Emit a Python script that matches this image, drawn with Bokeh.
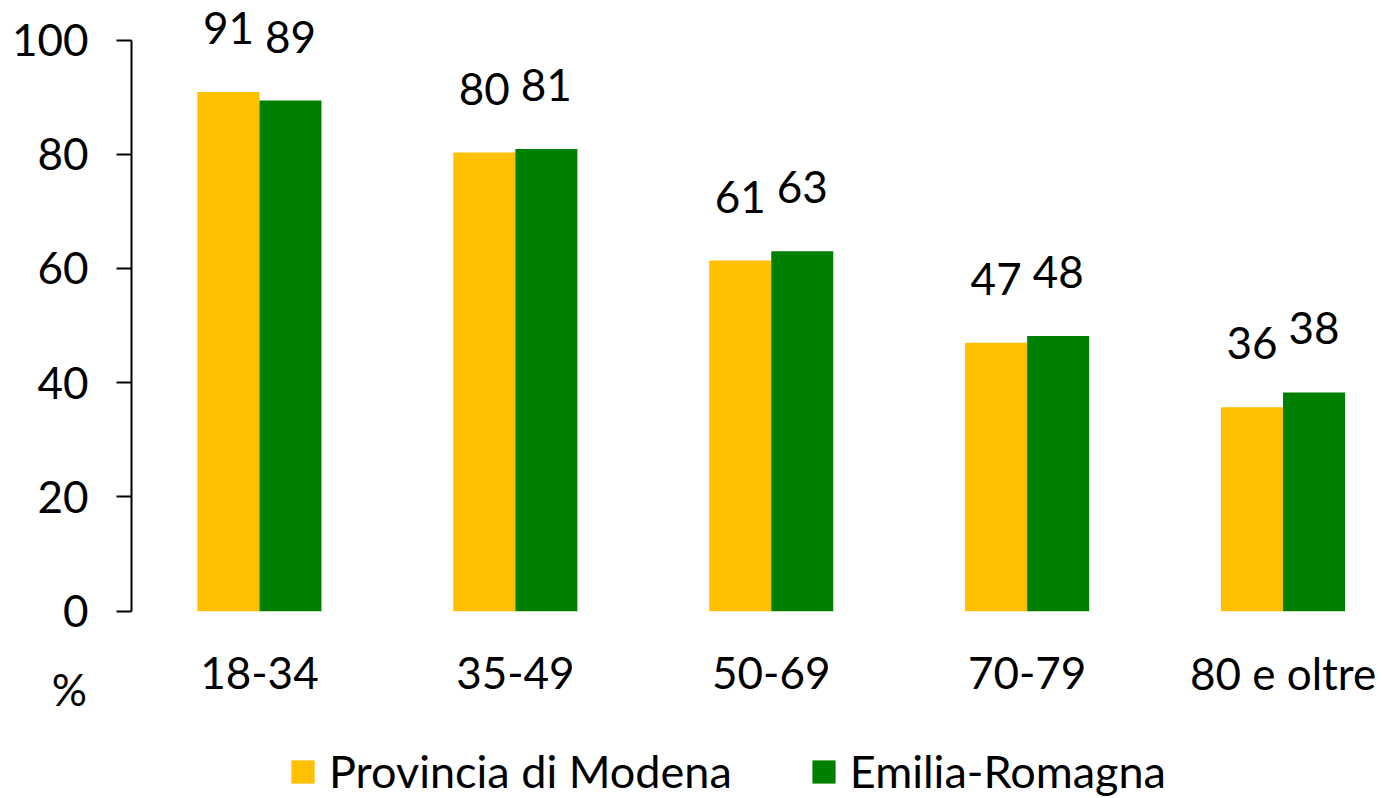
from bokeh.plotting import figure
from bokeh.models import Range1d, FixedTicker, Legend, LegendItem, ColumnDataSource
from bokeh.core.properties import value
from bokeh.embed import file_html
from bokeh.resources import INLINE

categories = ["18-34", "35-49", "50-69", "70-79", "80 e oltre"]
modena = [90.9, 80.3, 61.4, 47.0, 35.7]
emilia = [89.4, 80.9, 63.0, 48.2, 38.3]
series_names = ["Provincia di Modena", "Emilia-Romagna"]
y_ticks = [0, 20, 40, 60, 80, 100]
unit_label = "%"

FONT = "Lato"
FS = "44px"
LFS = "45px"
YELLOW = "#FFC000"
GREEN = "#008000"
BW = 0.2424
LABEL_OFF = 11.2
CAT_Y = -10.9
X0 = -0.5          # category-axis start (where the value axis sits)
PX = 255.9         # pixels per category

xs = list(range(len(categories)))

p = figure(width=1384, height=798,
           x_range=Range1d(X0 - 131 / PX, X0 + 1253 / PX), y_range=Range1d(-32.79, 106.92),
           output_backend="svg", toolbar_location=None,
           min_border_left=0, min_border_right=0, min_border_top=0, min_border_bottom=0)
p.outline_line_color = None
p.xgrid.grid_line_color = None
p.ygrid.grid_line_color = None
p.background_fill_color = "white"
p.border_fill_color = "white"
p.xaxis.visible = False

src_m = ColumnDataSource(dict(x=[x - BW / 2 for x in xs], top=modena,
                              ly=[v + LABEL_OFF for v in modena],
                              lt=[f"{v:.0f}" for v in modena]))
src_e = ColumnDataSource(dict(x=[x + BW / 2 for x in xs], top=emilia,
                              ly=[v + LABEL_OFF for v in emilia],
                              lt=[f"{v:.0f}" for v in emilia]))
src_c = ColumnDataSource(dict(x=xs, y=[CAT_Y] * len(xs), t=categories))

r_m = p.vbar(x="x", top="top", bottom=0, width=BW, source=src_m,
             fill_color=YELLOW, line_color=None)
r_e = p.vbar(x="x", top="top", bottom=0, width=BW, source=src_e,
             fill_color=GREEN, line_color=None)

for src in (src_m, src_e):
    p.text(x="x", y="ly", text="lt", source=src, text_align="center",
           text_baseline="middle", text_font=value(FONT), text_font_size=FS,
           text_color="black")

# category labels (x axis has no line or ticks)
p.text(x="x", y="y", text="t", source=src_c, text_align="center",
       text_baseline="middle", text_font=value(FONT), text_font_size=FS,
       text_color="black")

# unit label under the value axis
p.text(x=[X0 - 62 / PX], y=[-13.6], text=[unit_label], text_align="center",
       text_baseline="middle", text_font=value(FONT), text_font_size=FS,
       text_color="black")

# y axis
ya = p.yaxis[0]
ya.fixed_location = X0
ya.ticker = FixedTicker(ticks=y_ticks)
ya.bounds = (0, 100)
ya.axis_line_color = "black"
ya.axis_line_width = 2
ya.major_tick_line_color = "black"
ya.major_tick_line_width = 2
ya.major_tick_in = 0
ya.major_tick_out = 15
ya.minor_tick_line_color = None
ya.major_label_text_font = FONT
ya.major_label_text_font_size = FS
ya.major_label_text_color = "black"
ya.major_label_standoff = 28

legend = Legend(items=[LegendItem(label=series_names[0], renderers=[r_m]),
                       LegendItem(label=series_names[1], renderers=[r_e])],
                orientation="horizontal", location=(288, 0),
                glyph_width=29, glyph_height=29, label_standoff=12, spacing=77,
                padding=0, margin=0, border_line_color=None,
                background_fill_alpha=0,
                label_text_font=FONT, label_text_font_size=LFS,
                label_text_color="black")
p.add_layout(legend, "center")

open("out.html", "w").write(file_html(p, INLINE))
